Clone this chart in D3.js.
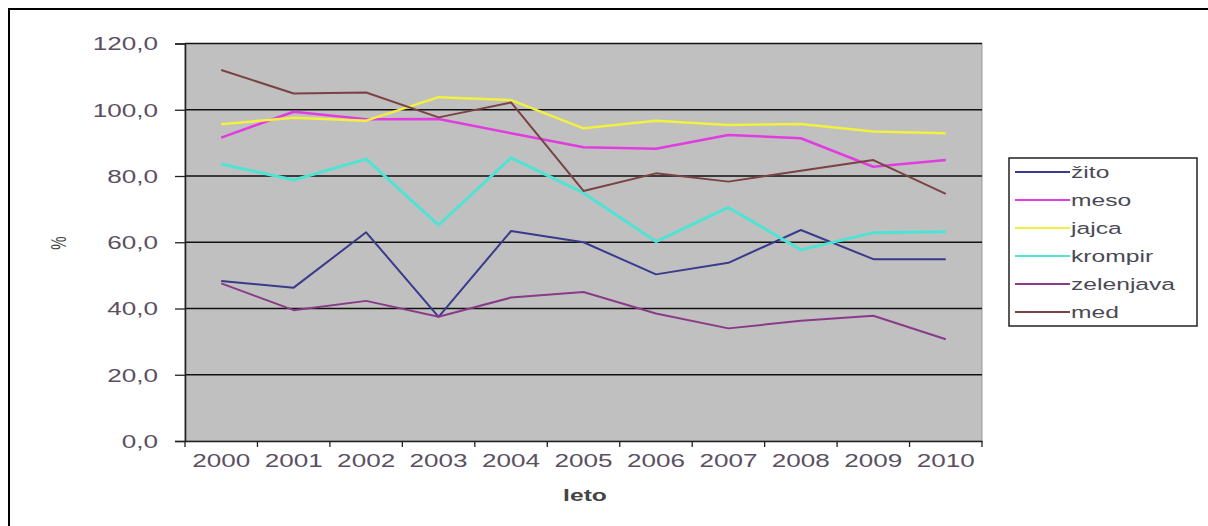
<!DOCTYPE html>
<html>
<head>
<meta charset="utf-8">
<script src="https://cdn.jsdelivr.net/npm/d3@7"></script>
<style>
  html, body { margin: 0; padding: 0; background: #fff; }
  svg { display: block; font-family: "Liberation Sans", Arial, sans-serif; }
</style>
</head>
<body>
<svg id="chart" width="1208" height="526"></svg>
<script>
const years = ["2000","2001","2002","2003","2004","2005","2006","2007","2008","2009","2010"];
const yTicks = [0, 20, 40, 60, 80, 100, 120];
const seriesNames = ["žito", "meso", "jajca", "krompir", "zelenjava", "med"];
const zito      = [48.3, 46.3, 63.0, 37.5, 63.4, 60.0, 50.3, 53.8, 63.7, 54.9, 54.9];
const meso      = [91.6, 99.4, 97.1, 97.2, 92.9, 88.7, 88.2, 92.4, 91.4, 82.8, 84.8];
const jajca     = [95.6, 97.6, 96.7, 103.8, 102.9, 94.4, 96.7, 95.4, 95.7, 93.4, 92.9];
const krompir   = [83.6, 78.8, 85.1, 65.2, 85.5, 74.9, 60.2, 70.5, 57.7, 62.9, 63.2];
const zelenjava = [47.6, 39.5, 42.3, 37.5, 43.3, 45.0, 38.5, 34.0, 36.3, 37.8, 30.7];
const med       = [112.0, 104.9, 105.2, 97.7, 102.2, 75.5, 80.8, 78.3, 81.6, 84.8, 74.6];

const seriesValues = [zito, meso, jajca, krompir, zelenjava, med];
const colors = ["#3a3a8c", "#e03ce0", "#f2f040", "#4fe3d4", "#8a3a88", "#7a4242"];
const widths = [2, 2.5, 2.5, 3, 2, 2];

const svg = d3.select("#chart");
const SX = 1.45; // horizontal stretch of text in the reference

// outer frame (left & top visible)
svg.append("rect").attr("x", 9).attr("y", 9).attr("width", 1230).attr("height", 560)
  .attr("fill", "#fff").attr("stroke", "#000").attr("stroke-width", 2);

const plotL = 185, plotR = 982, plotT = 43.5, plotB = 441;
const x = d3.scaleBand().domain(years).range([plotL, plotR]).paddingInner(0).paddingOuter(0);
const y = d3.scaleLinear().domain([0, 120]).range([plotB, plotT]);

// plot area
svg.append("rect").attr("x", plotL).attr("y", plotT).attr("width", plotR - plotL).attr("height", plotB - plotT)
  .attr("fill", "#c0c0c0").attr("stroke", "#9a9a9a").attr("stroke-width", 1);

// gridlines
svg.append("g").selectAll("line").data(yTicks.filter(d => d > 0)).join("line")
  .attr("x1", plotL).attr("x2", plotR)
  .attr("y1", d => y(d)).attr("y2", d => y(d))
  .attr("stroke", "#111").attr("stroke-width", 1.3);

// y axis
const yAxis = svg.append("g").attr("transform", `translate(${plotL},0)`)
  .call(d3.axisLeft(y).tickValues(yTicks).tickSize(10).tickPadding(0)
    .tickFormat(d => d3.format(".1f")(d).replace(".", ",")));
yAxis.select(".domain").attr("stroke", "#222").attr("stroke-width", 1.6);
yAxis.selectAll(".tick line").attr("stroke", "#222").attr("stroke-width", 1.3);
yAxis.selectAll(".tick text")
  .attr("x", null)
  .attr("transform", `translate(-27,0) scale(${SX},1)`)
  .attr("dy", "0.35em")
  .attr("font-size", 18).attr("fill", "#5a5062").attr("text-anchor", "end")
  .attr("font-family", "Liberation Sans, Arial, sans-serif");

// x axis labels (centered in bands)
const xAxis = svg.append("g").attr("transform", `translate(0,${plotB})`)
  .call(d3.axisBottom(x).tickSize(0).tickPadding(0));
xAxis.select(".domain").attr("stroke", "#222").attr("stroke-width", 1.6);
xAxis.selectAll(".tick text")
  .attr("y", null).attr("dy", null)
  .attr("transform", `translate(0,26) scale(${SX},1)`)
  .attr("font-size", 18).attr("fill", "#5a5062")
  .attr("font-family", "Liberation Sans, Arial, sans-serif");

// x tick marks at band boundaries
const boundaries = years.map(d => x(d)).concat([x.range()[1]]);
svg.append("g").selectAll("line").data(boundaries).join("line")
  .attr("x1", d => d).attr("x2", d => d)
  .attr("y1", plotB).attr("y2", plotB + 6)
  .attr("stroke", "#222").attr("stroke-width", 1.3);

// series lines
const line = d3.line()
  .x((d, i) => x(years[i]) + x.bandwidth() / 2)
  .y(d => y(d));
svg.append("g").selectAll("path").data(seriesValues).join("path")
  .attr("d", d => line(d))
  .attr("fill", "none")
  .attr("stroke", (d, i) => colors[i])
  .attr("stroke-width", (d, i) => widths[i])
  .attr("stroke-linejoin", "round");

// axis titles
svg.append("text")
  .attr("transform", `translate(66,243) scale(${SX},1) rotate(-90)`)
  .attr("text-anchor", "middle")
  .attr("font-size", 15).attr("fill", "#444")
  .text("%");
svg.append("text")
  .attr("transform", `translate(585,501) scale(${SX},1)`)
  .attr("text-anchor", "middle")
  .attr("font-size", 17).attr("font-weight", "bold").attr("fill", "#444")
  .text("leto");

// legend
const lg = svg.append("g");
lg.append("rect").attr("x", 1009).attr("y", 158).attr("width", 188).attr("height", 168)
  .attr("fill", "#fff").attr("stroke", "#222").attr("stroke-width", 1.5);
const legendY = d3.scalePoint().domain(seriesNames).range([172, 312]);
const items = lg.selectAll("g.item").data(seriesNames).join("g").attr("class", "item");
items.append("line")
  .attr("x1", 1015).attr("x2", 1070)
  .attr("y1", d => legendY(d)).attr("y2", d => legendY(d))
  .attr("stroke", (d, i) => colors[i]).attr("stroke-width", 2);
items.append("text")
  .attr("transform", d => `translate(1071,${legendY(d)}) scale(${SX},1)`)
  .attr("dy", "0.35em")
  .attr("font-size", 17).attr("fill", "#4a4a55")
  .text(d => d);
</script>
</body>
</html>
